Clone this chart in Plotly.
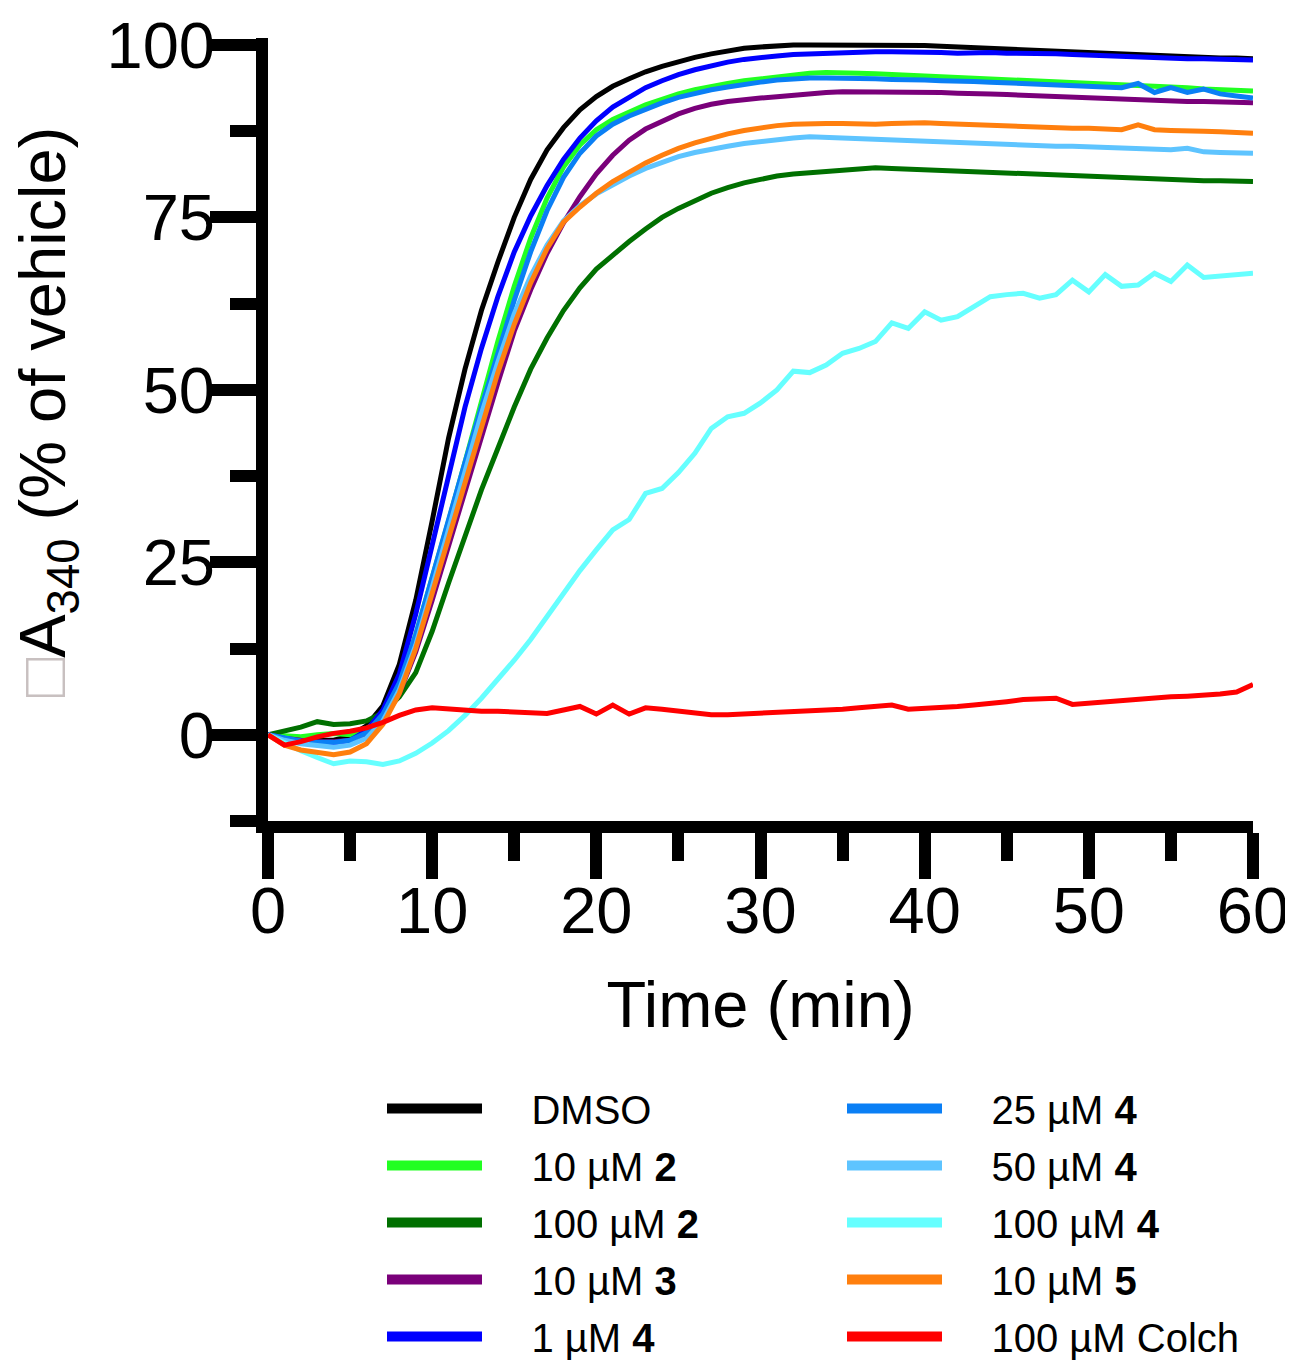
import plotly.graph_objects as go

time_min = list(range(0, 61))

dmso = [0, -0.3, -0.6, -0.8, -0.8, -0.2, 1.3, 4.2, 10.2, 19.5, 31, 43, 53, 61.5, 68.5, 75, 80.5, 84.8, 88, 90.6,
        92.5, 94, 95.1, 96.1, 96.9, 97.6, 98.2, 98.7, 99.1, 99.5, 99.7, 99.9, 100, 100, 100, 100, 100, 99.9, 99.9, 99.9,
        99.9, 99.8, 99.7, 99.6, 99.5, 99.4, 99.3, 99.1, 99.0, 98.9, 98.8, 98.7, 98.6, 98.5, 98.4, 98.3, 98.2, 98.2, 98.1, 98.1,
        98.0]
c2_10 = [0, -0.2, -0.3, 0, 0.2, 0, 0.8, 3, 7.5, 14.5, 22.5, 31, 39.5, 48.5, 57, 65, 72, 77.8, 82.3, 85.5,
         87.7, 89.2, 90.3, 91.3, 92.1, 92.9, 93.5, 94, 94.4, 94.8, 95.1, 95.4, 95.7, 95.9, 96, 96, 95.9, 95.8, 95.7, 95.6,
         95.5, 95.4, 95.3, 95.2, 95.1, 95.0, 94.9, 94.8, 94.7, 94.6, 94.4, 94.3, 94.2, 94.1, 94.0, 93.9, 93.8, 93.6, 93.5, 93.4,
         93.3]
c2_100 = [0, 0.6, 1.1, 1.9, 1.5, 1.6, 2, 3.2, 5.5, 9, 15, 22, 29, 35.5, 41.5, 47.5, 53, 57.5, 61.5, 64.8,
          67.5, 69.6, 71.5, 73.3, 75, 76.3, 77.5, 78.5, 79.3, 80, 80.5, 81, 81.3, 81.5, 81.7, 81.9, 82, 82.2, 82.1, 82,
          82, 81.9, 81.8, 81.7, 81.6, 81.5, 81.4, 81.3, 81.2, 81.1, 81.0, 80.8, 80.7, 80.6, 80.5, 80.4, 80.3, 80.3, 80.3, 80.2,
          80.2]
c3_10 = [0, -0.5, -0.8, -1, -1, -0.8, 0, 2, 6, 12, 19.5, 27.5, 35.5, 43.5, 51, 58.5, 64.5, 69.8, 74.2, 78,
         81.3, 84, 86.2, 87.8, 89, 90, 90.8, 91.4, 91.8, 92.1, 92.3, 92.5, 92.7, 93, 93.1, 93.2, 93.2, 93.2, 93.2, 93.2,
         93.1, 93.1, 93.0, 93.0, 92.9, 92.8, 92.7, 92.6, 92.5, 92.4, 92.3, 92.2, 92.1, 92.0, 92.0, 91.9, 91.8, 91.8, 91.7, 91.7,
         91.6]
c4_1 = [0, -0.6, -1, -1.2, -1.2, -0.8, 0.6, 3.6, 8.8, 17.5, 27.5, 37.5, 47.5, 56, 63.5, 70, 75.2, 79.6, 83.4, 86.5,
        89, 91, 92.5, 93.8, 94.8, 95.7, 96.4, 97, 97.5, 97.9, 98.2, 98.4, 98.6, 98.7, 98.8, 98.9, 98.9, 99, 99, 99,
        99, 98.9, 98.8, 98.9, 98.9, 98.8, 98.8, 98.7, 98.7, 98.6, 98.5, 98.4, 98.4, 98.3, 98.2, 98.1, 98.0, 98.0, 97.9, 97.8,
        97.8]
c4_25 = [0, -0.5, -0.9, -1.1, -1.1, -0.8, 0.3, 3, 7.5, 14.5, 23, 31.5, 39.5, 47.5, 55.5, 63, 70, 76, 80.8, 84.3,
         86.8, 88.5, 89.7, 90.7, 91.6, 92.4, 93, 93.5, 93.9, 94.3, 94.6, 94.9, 95.1, 95.2, 95.2, 95.2, 95.1, 95.1, 95, 95,
         94.9, 94.8, 94.8, 94.7, 94.6, 94.5, 94.4, 94.3, 94.2, 94.1, 94.0, 93.9, 93.8, 94.4, 93.1, 93.8, 93.1, 93.6, 92.9, 92.6,
         92.3]
c4_50 = [0, -0.8, -1.3, -1.6, -1.8, -1.5, -0.5, 2, 6.5, 13, 21.5, 30, 38.5, 46.5, 54, 61, 66.5, 71, 74.5, 76.7,
         78.4, 79.8, 81, 82.1, 83, 83.8, 84.4, 84.9, 85.3, 85.7, 86, 86.3, 86.5, 86.7, 86.6, 86.5, 86.4, 86.3, 86.2, 86.1,
         86.0, 85.9, 85.8, 85.8, 85.7, 85.6, 85.5, 85.4, 85.3, 85.3, 85.2, 85.1, 85.1, 85.0, 84.9, 84.8, 85.0, 84.5, 84.4, 84.3,
         84.3]
c4_100 = [0, -1.2, -2.3, -3.3, -4.2, -3.8, -3.9, -4.3, -3.8, -2.7, -1.2, 0.6, 2.8, 5.3, 8, 10.8, 13.8, 17.2, 20.5, 23.8,
          26.8, 29.7, 31.2, 35, 35.7, 38, 40.8, 44.4, 46.1, 46.6, 48.1, 50, 52.7, 52.5, 53.6, 55.3, 56, 57, 59.7, 58.9,
          61.3, 60.1, 60.6, 62.1, 63.5, 63.8, 64, 63.3, 63.8, 65.9, 64.2, 66.7, 65, 65.2, 66.9, 65.7, 68.1, 66.3, 66.5, 66.7,
          66.9]
c5_10 = [0, -1.5, -2.2, -2.6, -2.9, -2.5, -1.3, 1.5, 6, 12.5, 20.5, 28.5, 37, 45, 52.5, 59.5, 65.5, 70.5, 74.3, 76.5,
         78.5, 80.2, 81.6, 82.9, 84, 85, 85.8, 86.5, 87.1, 87.6, 88, 88.3, 88.5, 88.6, 88.6, 88.6, 88.5, 88.5, 88.6, 88.7,
         88.7, 88.6, 88.5, 88.4, 88.3, 88.2, 88.1, 88.0, 88.0, 87.9, 87.9, 87.8, 87.7, 88.4, 87.7, 87.6, 87.6, 87.5, 87.4, 87.3,
         87.2]
colch_100 = [0, -1.5, -1.0, -0.3, 0.2, 0.5, 1, 1.8, 2.8, 3.6, 3.9, 3.7, 3.5, 3.4, 3.4, 3.3, 3.2, 3.1, 3.6, 4.1,
             3.0, 4.3, 3.0, 3.9, 3.7, 3.4, 3.1, 2.9, 2.9, 3.0, 3.1, 3.3, 3.4, 3.5, 3.6, 3.7, 3.9, 4.1, 4.3, 3.7,
             3.8, 3.9, 4.1, 4.3, 4.5, 4.8, 5.1, 5.2, 5.3, 4.4, 4.6, 4.7, 4.9, 5.1, 5.3, 5.5, 5.6, 5.7, 5.9, 6.2,
             7.3]

series_names = ["DMSO", "10 µM <b>2</b>", "100 µM <b>2</b>", "10 µM <b>3</b>", "1 µM <b>4</b>",
                "25 µM <b>4</b>", "50 µM <b>4</b>", "100 µM <b>4</b>", "10 µM <b>5</b>", "100 µM Colch"]
series_values = [dmso, c2_10, c2_100, c3_10, c4_1, c4_25, c4_50, c4_100, c5_10, colch_100]
series_colors = ["#000000", "#22ff22", "#007000", "#7a007a", "#0000ff",
                 "#0a7ff5", "#5ec4ff", "#66ffff", "#ff7f0e", "#ff0000"]

y_major = [0, 25, 50, 75, 100]
x_major = [0, 10, 20, 30, 40, 50, 60]

FONT = "Liberation Sans, Arial, sans-serif"
PAD = "\u00a0" * 4

fig = go.Figure()
# data curves
for i, (name, vals, col) in enumerate(zip(series_names, series_values, series_colors)):
    fig.add_trace(go.Scatter(
        x=time_min, y=vals, mode="lines", name=name,
        line=dict(color=col, width=5), showlegend=False,
        legendgroup=str(i),
    ))
# legend entries (thicker key lines, no data drawn)
for i, (name, col) in enumerate(zip(series_names, series_colors)):
    fig.add_trace(go.Scatter(
        x=[None], y=[None], mode="lines", name=PAD + name,
        line=dict(color=col, width=10),
        legend="legend" if i < 5 else "legend2",
        legendgroup=str(i),
    ))

axis_common = dict(
    showline=True, linewidth=12, linecolor="black",
    ticks="outside", ticklen=46, tickwidth=12, tickcolor="black",
    showgrid=False, zeroline=False, automargin=True,
    tickfont=dict(size=65, color="black", family=FONT),
)

fig.update_xaxes(
    range=[0, 60], tickvals=x_major, tickangle=0, ticklabelstandoff=-24, **axis_common,
    minor=dict(dtick=5, tick0=0, ticks="outside", ticklen=28, tickwidth=12, tickcolor="black", showgrid=False),
    title=dict(text="Time (min)", font=dict(size=65, color="black", family=FONT), standoff=40),
)
fig.update_yaxes(
    range=[-12.5, 101], tickvals=y_major, ticklabelstandoff=-18, **axis_common,
    minor=dict(dtick=12.5, tick0=0, ticks="outside", ticklen=26, tickwidth=12, tickcolor="black", showgrid=False),
)

L, R, T, B = 260, 48, 30, 548
PW = 1293 - L - R
PH = 1361 - T - B

fig.add_annotation(
    text="<span style='color:#c8c0c0'>□</span>A<sub>340</sub> (% of vehicle)",
    textangle=-90, showarrow=False,
    xref="paper", yref="paper",
    x=(39 - L) / PW, y=(T + PH - 404) / PH,
    xanchor="center", yanchor="middle",
    font=dict(size=65, color="black", family=FONT),
)

legend_common = dict(
    font=dict(size=40, color="black", family=FONT),
    bgcolor="rgba(0,0,0,0)", borderwidth=0,
    xref="container", yref="container", xanchor="left", yanchor="top",
    tracegroupgap=2, itemwidth=95,
)
fig.update_layout(
    width=1293, height=1361,
    margin=dict(l=L, r=R, t=T, b=B, autoexpand=False),
    paper_bgcolor="white", plot_bgcolor="white",
    font=dict(family=FONT, color="black"),
    legend=dict(x=374 / 1293, y=1 - 1068 / 1361, **legend_common),
    legend2=dict(x=834 / 1293, y=1 - 1068 / 1361, **legend_common),
)

fig.write_html("out.html")
